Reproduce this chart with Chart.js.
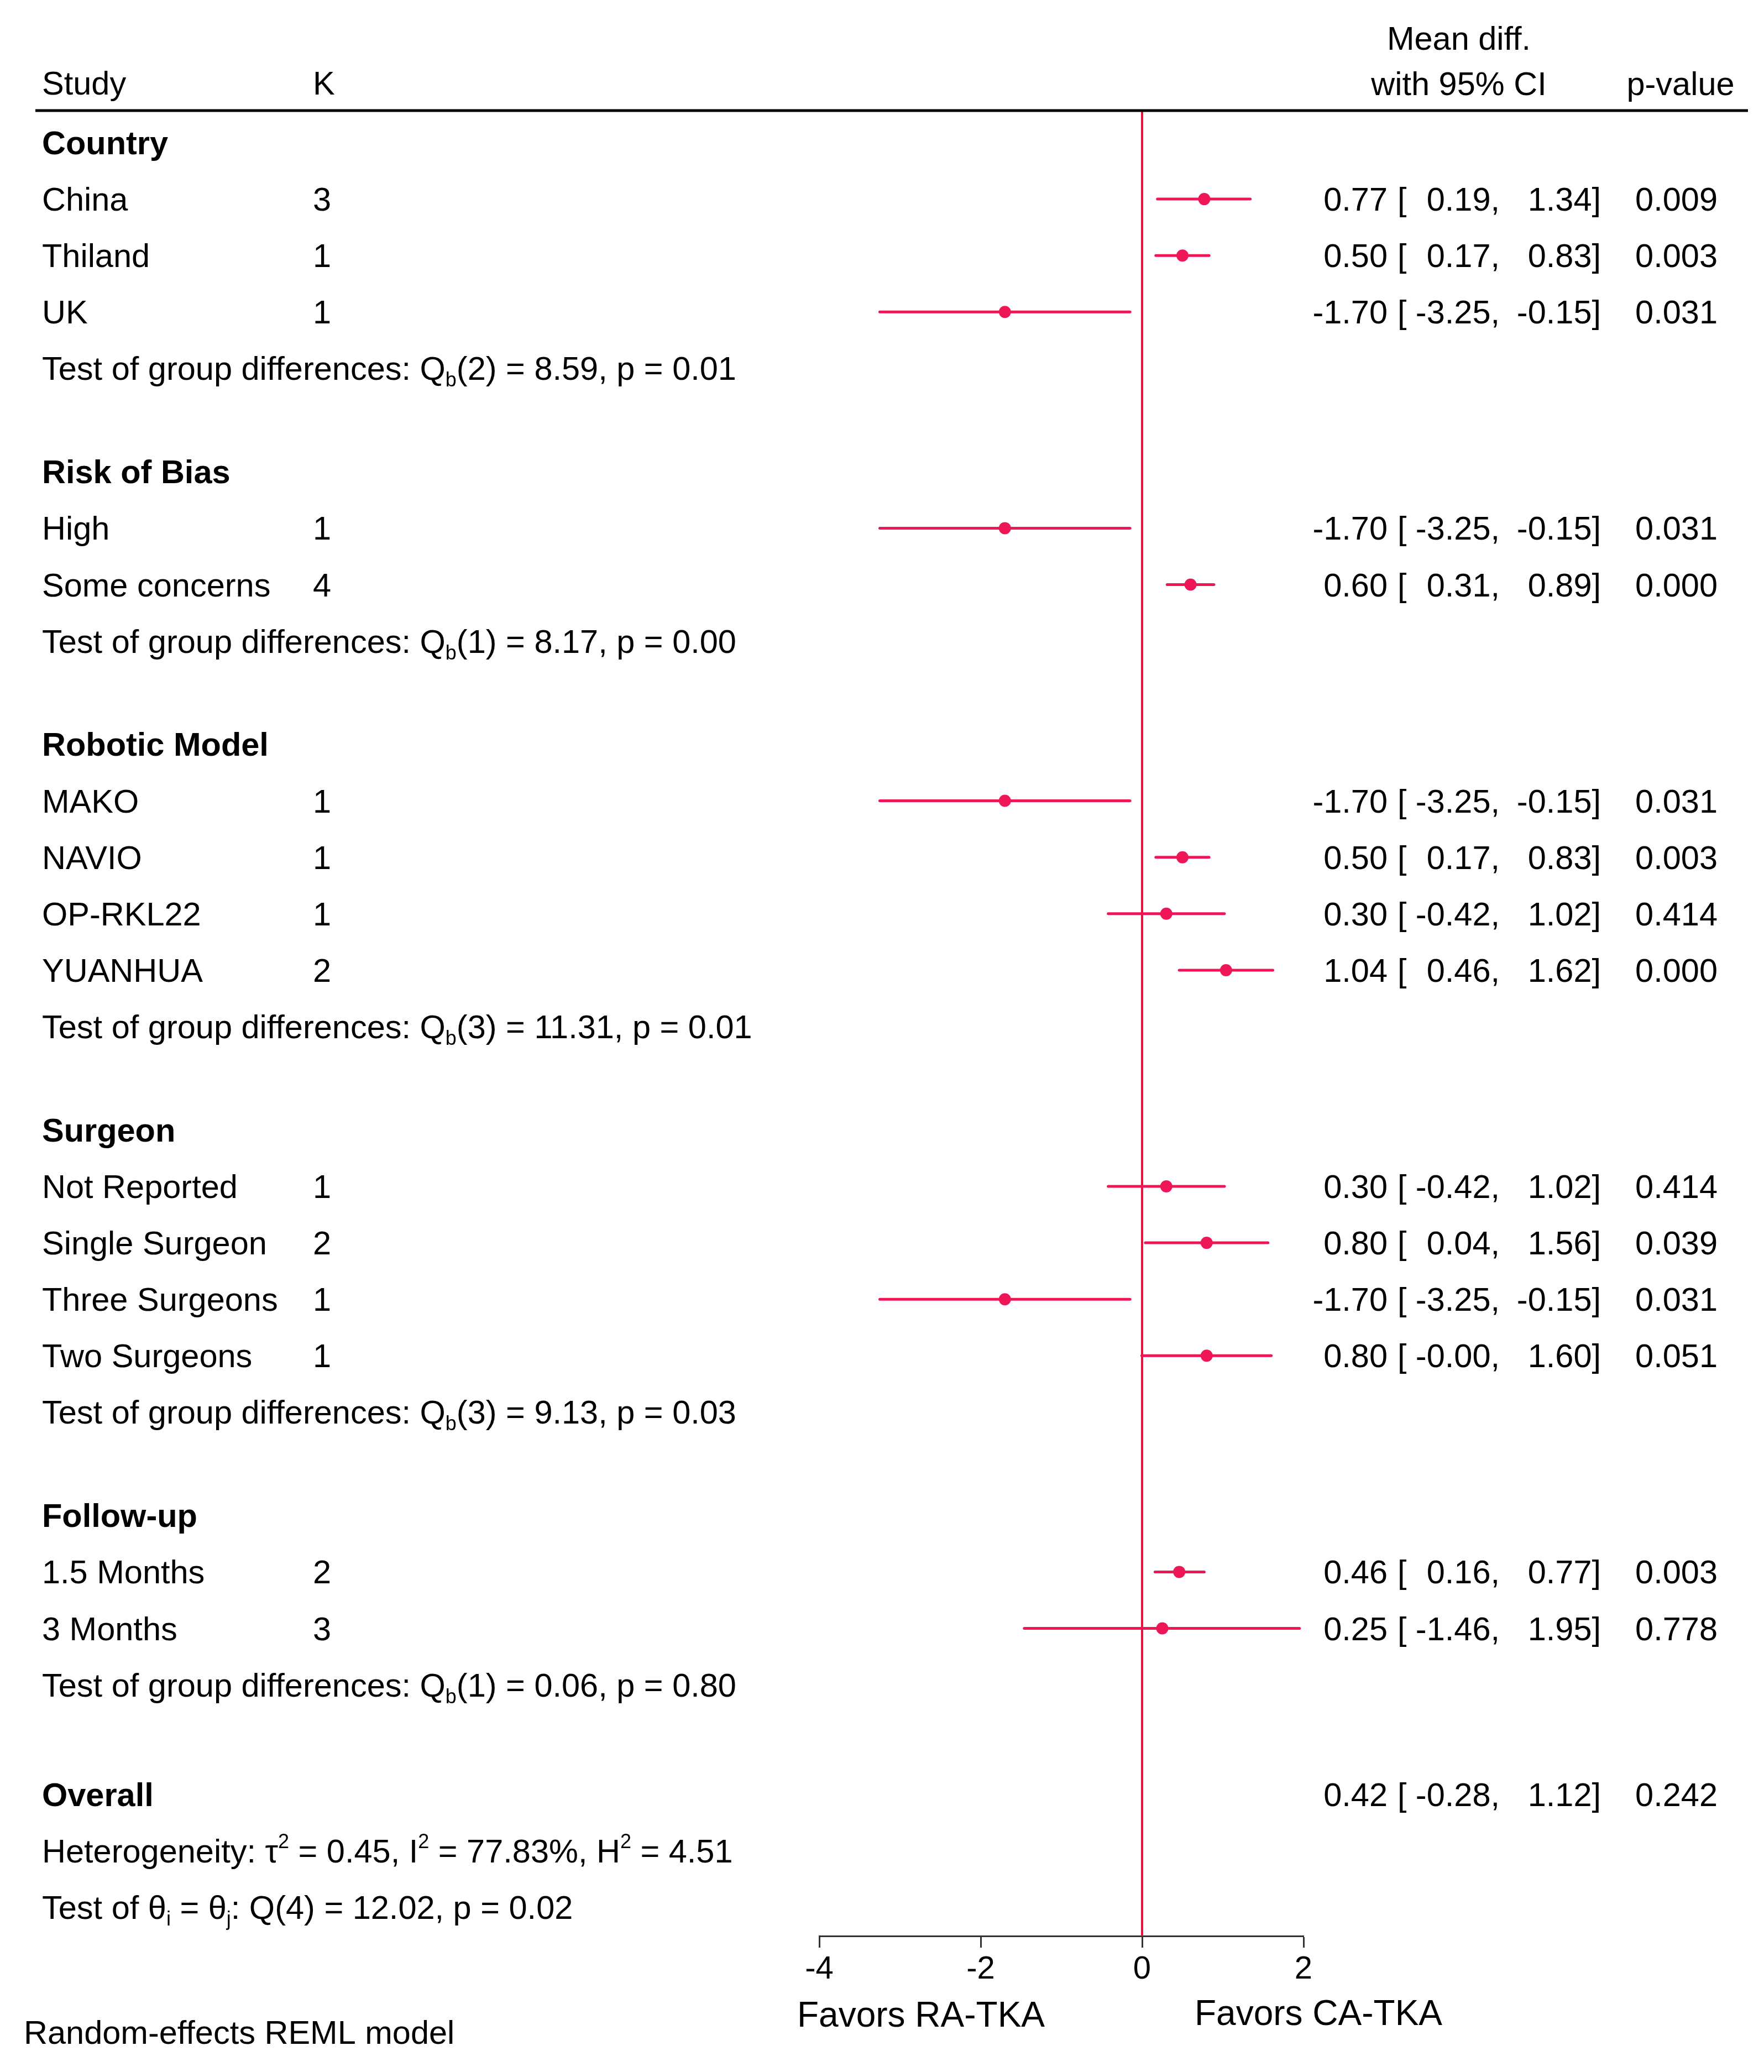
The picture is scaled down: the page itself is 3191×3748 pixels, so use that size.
<!DOCTYPE html>
<html>
<head>
<meta charset="utf-8">
<script src="https://cdn.jsdelivr.net/npm/chart.js@4.4.1/dist/chart.umd.min.js"></script>
<style>
html,body{margin:0;padding:0;background:#fff;}
canvas{display:block;}
</style>
</head>
<body>
<canvas id="c" width="3191" height="3748" style="width:3191px;height:3748px"></canvas>
<script>
// ---------------- DATA ----------------
const groupNames = ['Country', 'Risk of Bias', 'Robotic Model', 'Surgeon', 'Follow-up'];
const groupDf    = [2, 1, 3, 3, 1];
const groupQ     = ['8.59', '8.17', '11.31', '9.13', '0.06'];
const groupP     = ['0.01', '0.00', '0.01', '0.03', '0.80'];

const rowLabels = ['China', 'Thiland', 'UK',
                   'High', 'Some concerns',
                   'MAKO', 'NAVIO', 'OP-RKL22', 'YUANHUA',
                   'Not Reported', 'Single Surgeon', 'Three Surgeons', 'Two Surgeons',
                   '1.5 Months', '3 Months'];
const rowGroup  = [0,0,0, 1,1, 2,2,2,2, 3,3,3,3, 4,4];
const kValues   = [3,1,1, 1,4, 1,1,1,2, 1,2,1,1, 2,3];
const meanDiff  = [0.77, 0.50, -1.70, -1.70, 0.60, -1.70, 0.50, 0.30, 1.04, 0.30, 0.80, -1.70, 0.80, 0.46, 0.25];
const ciLower   = [0.19, 0.17, -3.25, -3.25, 0.31, -3.25, 0.17, -0.42, 0.46, -0.42, 0.04, -3.25, -0.004, 0.16, -1.46];
const ciUpper   = [1.34, 0.83, -0.15, -0.15, 0.89, -0.15, 0.83, 1.02, 1.62, 1.02, 1.56, -0.15, 1.60, 0.77, 1.95];
const pValues   = ['0.009','0.003','0.031','0.031','0.000','0.031','0.003','0.414','0.000','0.414','0.039','0.031','0.051','0.003','0.778'];

const overallEst = 0.42, overallLo = -0.28, overallHi = 1.12, overallP = '0.242';
const hetTau2 = '0.45', hetI2 = '77.83%', hetH2 = '4.51';
const homDf = 4, homQ = '12.02', homP = '0.02';

const xTicks = [-4, -2, 0, 2];
const xAxisLabels = ['Favors RA-TKA', 'Favors CA-TKA'];

// ---------------- LAYOUT (row positions in row units) ----------------
const GROUP_GAP = 1.83, OVERALL_GAP = 1.94;
const groupHeaderPos = [], groupTestPos = [], rowPos = [];
{
  let pos = 0;
  for (let g = 0; g < groupNames.length; g++) {
    groupHeaderPos.push(pos); pos += 1;
    for (let i = 0; i < rowLabels.length; i++) if (rowGroup[i] === g) { rowPos[i] = pos; pos += 1; }
    groupTestPos.push(pos);
    if (g < groupNames.length - 1) pos += GROUP_GAP;
  }
  var overallPos = pos + OVERALL_GAP;
}
const Y_MIN = -0.568, Y_MAX = 31.77;

const FONT = '"Liberation Sans", Arial, Helvetica, sans-serif';
const PINK = '#EE1657';
const ZERO = '#E5133F';

Chart.defaults.font.family = FONT;

const datasets = [];
datasets.push({
  label: 'zero', showLine: true, data: [{x: 0, y: Y_MIN}, {x: 0, y: Y_MAX}],
  borderColor: ZERO, borderWidth: 4, pointRadius: 0, clip: false, order: 3
});
for (let i = 0; i < rowLabels.length; i++) {
  datasets.push({
    label: 'ci' + i, showLine: true,
    data: [{x: ciLower[i], y: rowPos[i]}, {x: ciUpper[i], y: rowPos[i]}],
    borderColor: PINK, borderWidth: 5, pointRadius: 0, borderCapStyle: 'round', clip: false, order: 2
  });
}
datasets.push({
  label: 'est', data: meanDiff.map((v, i) => ({x: v, y: rowPos[i]})),
  backgroundColor: PINK, borderWidth: 0, pointRadius: 11, clip: false, order: 1
});

function setFont(ctx, size, bold) { ctx.font = (bold ? 'bold ' : '') + size + 'px ' + FONT; }

function drawRich(ctx, x, y, parts, size) {
  let cx = x;
  for (const p of parts) {
    let s = size, dy = 0;
    if (p[1] === 'sub') { s = Math.round(size * 0.6); dy = size * 0.2; }
    else if (p[1] === 'sup') { s = Math.round(size * 0.6); dy = -size * 0.44; }
    setFont(ctx, s, false);
    ctx.textAlign = 'left';
    ctx.fillText(p[0], cx, y + dy);
    cx += ctx.measureText(p[0]).width;
  }
}

const TS = 59.5;        // text size
const BL = 21;          // baseline offset from row centre
const COL_STUDY = 76, COL_K = 566;
const COL_EST = 2510, COL_BR = 2528, COL_LO = 2713, COL_HI = 2896, COL_P = 3107;

function drawStats(ctx, y, est, lo, hi, p) {
  setFont(ctx, TS, false);
  ctx.textAlign = 'right';
  ctx.fillText(est.toFixed(2), COL_EST, y);
  ctx.textAlign = 'left';
  ctx.fillText('[', COL_BR, y);
  ctx.textAlign = 'right';
  ctx.fillText(lo.toFixed(2) + ',', COL_LO, y);
  ctx.fillText(hi.toFixed(2) + ']', COL_HI, y);
  ctx.fillText(p, COL_P, y);
}

const textPlugin = {
  id: 'forestText',
  afterDraw(chart) {
    const ctx = chart.ctx, ys = chart.scales.y;
    ctx.save();
    ctx.fillStyle = '#000';
    ctx.textBaseline = 'alphabetic';

    // header
    setFont(ctx, TS, false);
    ctx.textAlign = 'left';
    ctx.fillText('Study', COL_STUDY, 150 + BL);
    ctx.fillText('K', COL_K, 150 + BL);
    ctx.textAlign = 'center';
    ctx.fillText('Mean diff.', 2639, 69 + BL);
    ctx.fillText('with 95% CI', 2639, 151 + BL);
    ctx.fillText('p-value', 3040, 151 + BL);

    // header rule
    ctx.strokeStyle = '#000';
    ctx.lineWidth = 5;
    ctx.beginPath();
    ctx.moveTo(64, ys.top); ctx.lineTo(3162, ys.top);
    ctx.stroke();

    // groups
    for (let g = 0; g < groupNames.length; g++) {
      const yh = ys.getPixelForValue(groupHeaderPos[g]) + BL;
      setFont(ctx, TS, true);
      ctx.textAlign = 'left';
      ctx.fillText(groupNames[g], COL_STUDY, yh);
      const yt = ys.getPixelForValue(groupTestPos[g]) + BL;
      drawRich(ctx, COL_STUDY, yt, [
        ['Test of group differences: Q'], ['b', 'sub'],
        ['(' + groupDf[g] + ') = ' + groupQ[g] + ', p = ' + groupP[g]]
      ], TS);
    }
    // rows
    for (let i = 0; i < rowLabels.length; i++) {
      const y = ys.getPixelForValue(rowPos[i]) + BL;
      setFont(ctx, TS, false);
      ctx.textAlign = 'left';
      ctx.fillText(rowLabels[i], COL_STUDY, y);
      ctx.fillText(String(kValues[i]), COL_K, y);
      drawStats(ctx, y, meanDiff[i], ciLower[i], ciUpper[i], pValues[i]);
    }
    // overall
    const yo = ys.getPixelForValue(overallPos) + BL;
    setFont(ctx, TS, true);
    ctx.textAlign = 'left';
    ctx.fillText('Overall', COL_STUDY, yo);
    drawStats(ctx, yo, overallEst, overallLo, overallHi, overallP);
    const yhet = ys.getPixelForValue(overallPos + 1) + BL;
    drawRich(ctx, COL_STUDY, yhet, [
      ['Heterogeneity: \u03C4'], ['2', 'sup'], [' = ' + hetTau2 + ', I'], ['2', 'sup'],
      [' = ' + hetI2 + ', H'], ['2', 'sup'], [' = ' + hetH2]
    ], TS);
    const yq = ys.getPixelForValue(overallPos + 2) + BL;
    drawRich(ctx, COL_STUDY, yq, [
      ['Test of \u03B8'], ['i', 'sub'], [' = \u03B8'], ['j', 'sub'],
      [': Q(' + homDf + ') = ' + homQ + ', p = ' + homP]
    ], TS);

    // axis titles
    setFont(ctx, 64, false);
    ctx.textAlign = 'center';
    ctx.fillText(xAxisLabels[0], 1666, 3643 + 23);
    ctx.fillText(xAxisLabels[1], 2385, 3640 + 23);

    // note
    setFont(ctx, TS, false);
    ctx.textAlign = 'left';
    ctx.fillText('Random-effects REML model', 43, 3676 + BL);
    ctx.restore();
  }
};

new Chart(document.getElementById('c'), {
  type: 'scatter',
  data: { datasets },
  options: {
    responsive: false,
    devicePixelRatio: 1,
    animation: false,
    events: [],
    layout: { padding: { left: 1482, right: 833, top: 200, bottom: 0 } },
    plugins: { legend: { display: false }, tooltip: { enabled: false } },
    scales: {
      x: {
        type: 'linear', position: 'bottom', min: xTicks[0], max: xTicks[xTicks.length - 1],
        afterBuildTicks(s) { s.ticks = xTicks.map(v => ({ value: v })); },
        ticks: { font: { size: 58 }, color: '#000', padding: 5, maxRotation: 0, autoSkip: false },
        grid: { drawOnChartArea: false, drawTicks: true, tickLength: 21, tickWidth: 3, tickColor: '#333' },
        border: { display: true, color: '#333', width: 3 },
        afterFit(s) { s.height = 246; }
      },
      y: { type: 'linear', min: Y_MIN, max: Y_MAX, reverse: true, display: false }
    }
  },
  plugins: [textPlugin]
});
</script>
</body>
</html>
